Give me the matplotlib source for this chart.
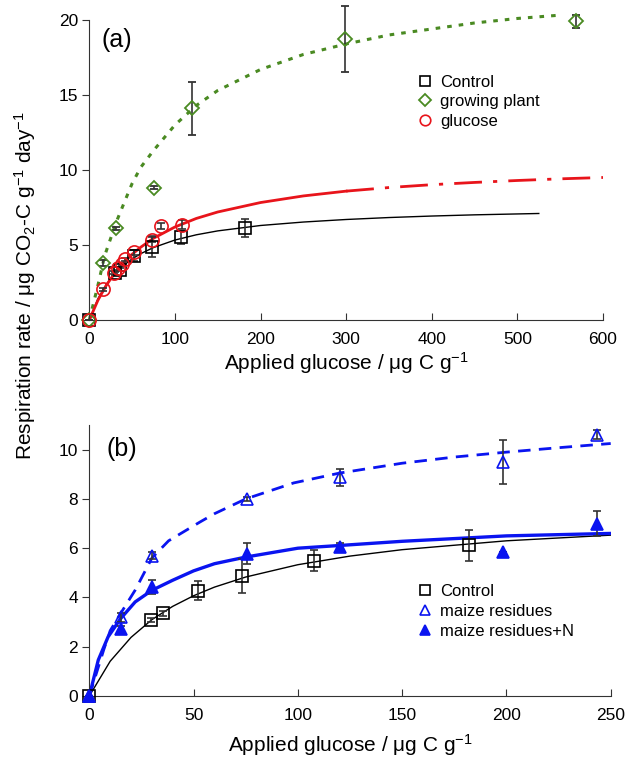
import matplotlib
matplotlib.use("Agg")
import matplotlib.pyplot as plt

plt.rcParams['font.family'] = ['Liberation Sans', 'DejaVu Sans']
plt.rcParams['mathtext.default'] = 'regular'

# ---- panel (a) data ----
ctrl_x = [0, 29.5, 35.5, 52, 73, 107.5, 182]
ctrl_y = [0, 3.1, 3.35, 4.28, 4.88, 5.5, 6.12]
ctrl_err = [0, 0.08, 0.1, 0.37, 0.7, 0.42, 0.62]

ctrl_fit_x = [0, 10, 20, 30, 40, 50, 60, 75, 100, 125, 150, 200, 250, 300, 350, 400, 450, 500, 525]
ctrl_fit_y = [0, 1.41, 2.38, 3.10, 3.64, 4.07, 4.42, 4.83, 5.33, 5.68, 5.94, 6.30, 6.53, 6.70, 6.83, 6.93, 7.01, 7.07, 7.10]

plant_x = [0, 15.5, 31, 75.5, 120, 299, 568]
plant_y = [0, 3.8, 6.1, 8.82, 14.1, 18.7, 19.9]
plant_err = [0, 0.2, 0.12, 0.1, 1.75, 2.2, 0.45]

plant_fit_x = [0, 10, 18, 32, 42, 50, 60, 75, 100, 125, 150, 200, 250, 300, 350, 400, 450, 500, 545]
plant_fit_y = [0, 2.3, 4.3, 6.6, 8.0, 9.1, 10.17, 11.3, 13.0, 14.3, 15.3, 16.7, 17.7, 18.4, 19.0, 19.4, 19.8, 20.1, 20.3]

glu_x = [0, 16, 29, 34, 38, 42, 52, 73, 84, 108]
glu_y = [0, 2.05, 3.15, 3.45, 3.7, 4.05, 4.5, 5.35, 6.27, 6.35]
glu_err = [0, 0.1, 0.1, 0.1, 0.1, 0.1, 0.15, 0.15, 0.2, 0.3]

glu_fit_x = [0, 10, 20, 30, 40, 50, 60, 75, 100, 125, 150, 200, 250, 300, 350, 400, 450, 500, 550, 600]
glu_fit_y = [0, 1.31, 2.33, 3.15, 3.82, 4.38, 4.85, 5.45, 6.20, 6.77, 7.20, 7.83, 8.27, 8.59, 8.83, 9.02, 9.17, 9.30, 9.41, 9.50]
glu_solid_end = 13  # index where the red line turns to dash-dot

# ---- panel (b) data ----
maize_x = [0, 15, 30, 75.5, 120, 198.5, 243.5]
maize_y = [0, 3.2, 5.7, 8.0, 8.88, 9.5, 10.6]
maize_err = [0, 0.18, 0.13, 0.08, 0.35, 0.88, 0.18]
maizeN_y = [0, 2.74, 4.43, 5.78, 6.04, 5.84, 6.99]
maizeN_err = [0, 0.1, 0.28, 0.44, 0.18, 0, 0.5]

maize_fit_x = [0, 7, 10, 15, 22, 30, 38, 53, 60, 75, 98, 120, 150, 175, 200, 225, 250]
maize_fit_y = [0, 1.9, 2.65, 3.35, 4.3, 5.6, 6.3, 7.06, 7.4, 8.0, 8.65, 9.05, 9.45, 9.7, 9.9, 10.08, 10.25]

maizeN_fit_x = [0, 4.3, 9, 15, 22, 30, 40, 50, 60, 75, 100, 120, 150, 200, 250]
maizeN_fit_y = [0, 1.46, 2.4, 3.14, 3.82, 4.29, 4.7, 5.08, 5.37, 5.64, 6.0, 6.11, 6.28, 6.5, 6.6]

green = '#4a8a22'
red = '#e8141b'
blue = '#0a14f0'

fig = plt.figure(figsize=(6.43, 7.65), dpi=100)
ax1 = fig.add_axes([0.1389, 0.5817, 0.7989, 0.3922])
ax2 = fig.add_axes([0.1389, 0.0902, 0.8109, 0.3542])

eb_kw = dict(ecolor='#333333', elinewidth=1.2, capsize=3, capthick=1.2, linestyle='none', clip_on=False, zorder=4)
leg_kw = dict(loc='upper left', frameon=False, fontsize=12, markerscale=0.8,
              handlelength=0.8, handletextpad=0.5, labelspacing=0.28, borderaxespad=0)

# panel (a)
ax1.plot(ctrl_fit_x, ctrl_fit_y, color='black', lw=1.0, zorder=2)
ax1.plot(plant_fit_x, plant_fit_y, color=green, lw=2.2, linestyle=(0, (1.5, 2.3)), zorder=2, clip_on=False)
ax1.plot(glu_fit_x[:glu_solid_end + 1], glu_fit_y[:glu_solid_end + 1], color=red, lw=2.0, zorder=2)
ax1.plot(glu_fit_x[glu_solid_end:], glu_fit_y[glu_solid_end:], color=red, lw=2.0,
         linestyle=(0, (10, 4, 1.5, 4)), zorder=2)

c1 = ax1.errorbar(ctrl_x, ctrl_y, yerr=ctrl_err, fmt='s', mfc='none', mec='black', ms=9, mew=1.2, **eb_kw)
p1 = ax1.errorbar(plant_x, plant_y, yerr=plant_err, fmt='D', mfc='none', mec=green, ms=7.5, mew=1.3, **eb_kw)
g1 = ax1.errorbar(glu_x, glu_y, yerr=glu_err, fmt='o', mfc='none', mec=red, ms=9.5, mew=1.2, **eb_kw)

ax1.set_xlim(0, 600)
ax1.set_ylim(0, 20)
ax1.set_xticks([0, 100, 200, 300, 400, 500, 600])
ax1.set_yticks([0, 5, 10, 15, 20])
ax1.text(0.023, 0.973, '(a)', transform=ax1.transAxes, fontsize=18, va='top', ha='left')
ax1.legend([c1[0], p1[0], g1[0]], ['Control', 'growing plant', 'glucose'],
           bbox_to_anchor=(0.6275, 0.84), **leg_kw)

# panel (b)
ax2.plot(ctrl_fit_x, ctrl_fit_y, color='black', lw=1.0, zorder=2)
ax2.plot(maize_fit_x, maize_fit_y, color=blue, lw=2.0, linestyle=(0, (4.5, 3)), zorder=2)
ax2.plot(maizeN_fit_x, maizeN_fit_y, color=blue, lw=2.4, zorder=2)

c2 = ax2.errorbar(ctrl_x, ctrl_y, yerr=ctrl_err, fmt='s', mfc='none', mec='black', ms=9, mew=1.2, **eb_kw)
m2 = ax2.errorbar(maize_x, maize_y, yerr=maize_err, fmt='^', mfc='none', mec=blue, ms=9, mew=1.2, **eb_kw)
n2 = ax2.errorbar(maize_x, maizeN_y, yerr=maizeN_err, fmt='^', mfc=blue, mec=blue, ms=9, mew=1.2, **eb_kw)

ax2.set_xlim(0, 250)
ax2.set_ylim(0, 11)
ax2.set_xticks([0, 50, 100, 150, 200, 250])
ax2.set_yticks([0, 2, 4, 6, 8, 10])
ax2.text(0.033, 0.955, '(b)', transform=ax2.transAxes, fontsize=18, va='top', ha='left')
ax2.legend([c2[0], m2[0], n2[0]], ['Control', 'maize residues', 'maize residues+N'],
           bbox_to_anchor=(0.619, 0.437), **leg_kw)

for ax in (ax1, ax2):
    ax.spines['top'].set_visible(False)
    ax.spines['right'].set_visible(False)
    ax.spines['left'].set_color('#333333')
    ax.spines['bottom'].set_color('#333333')
    ax.tick_params(axis='x', direction='in', length=5, pad=9, labelsize=12.5, color='#333333')
    ax.tick_params(axis='y', direction='out', length=5, pad=3, labelsize=12.5, color='#333333')

ax1.set_xlabel('Applied glucose / μg C g$^{-1}$', fontsize=15, labelpad=2)
ax2.set_xlabel('Applied glucose / μg C g$^{-1}$', fontsize=15, labelpad=6)

fig.text(0.039, 0.627, 'Respiration rate / μg CO$_2$-C g$^{-1}$ day$^{-1}$', rotation=90,
         fontsize=15, ha='center', va='center')

fig.savefig('out.png', dpi=100)
